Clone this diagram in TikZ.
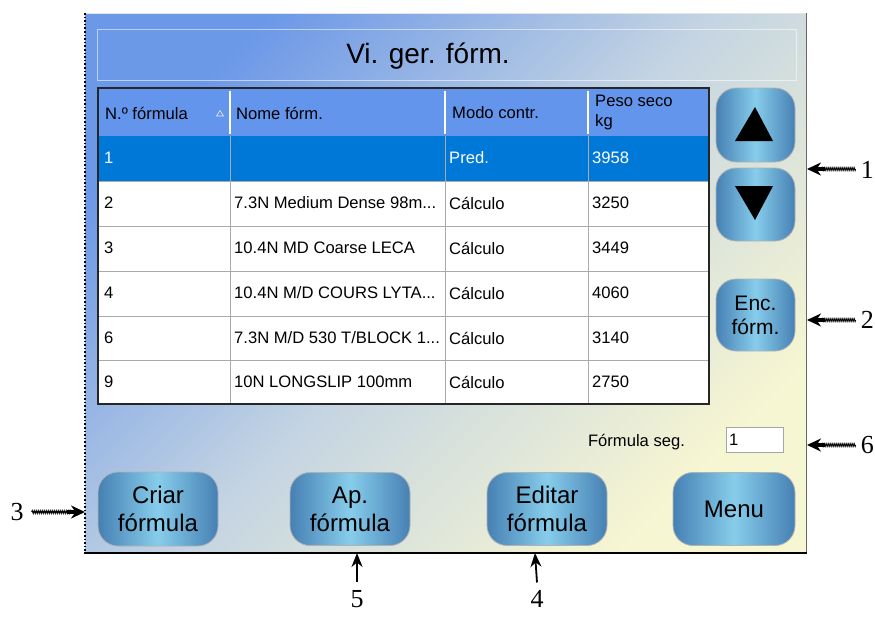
\documentclass[tikz,border=0pt]{standalone}
\usepackage{fontspec}
\setmainfont{Liberation Sans}
\newfontfamily\calloutfont{Liberation Serif}
\usetikzlibrary{arrows.meta,decorations.pathmorphing,calc}

\definecolor{panelTL}{RGB}{108,152,232}
\definecolor{panelMid}{RGB}{196,212,226}
\definecolor{panelBR}{RGB}{247,246,210}
\definecolor{btnEdge}{RGB}{70,128,180}
\definecolor{btnMid}{RGB}{135,205,235}
\definecolor{hdrBlue}{RGB}{100,149,237}
\definecolor{selBlue}{RGB}{0,120,215}
\definecolor{gridGray}{RGB}{170,170,170}

\begin{document}
\begin{tikzpicture}[x=1pt,y=-1pt,
  btn/.style={rounded corners=20pt, draw=gray!60, line width=0.8pt,
    left color=btnEdge, right color=btnEdge, middle color=btnMid,
    align=center, font=\fontsize{24}{28}\selectfont, inner sep=0pt},
  cell/.style={anchor=west, inner sep=0pt, font=\fontsize{16.6}{19}\selectfont},
  selcell/.style={cell, text=white},
  hdr/.style={cell, align=left, font=\fontsize{16.6}{20}\selectfont},
  callout/.style={font=\calloutfont\fontsize{26}{26}\selectfont, inner sep=0pt},
  wave/.style={decorate, decoration={zigzag, segment length=2pt, amplitude=1.4pt}, line width=1pt},
  tipline/.style={line width=3.4pt, -{Stealth[length=14pt,width=13pt]}},
  upline/.style={line width=1.8pt, -{Stealth[length=14pt,width=11pt]}}]
\useasboundingbox (0,0) rectangle (875,616);

% window background
\shade[top color=panelTL, bottom color=panelBR, middle color=panelMid, shading angle=45]
  (85,13) rectangle (806,553);
\draw[white!80!gray, line width=0.6pt] (85,13) -- (806,13);
\draw[gray!80!black, line width=1pt] (806,13) -- (806,553);
\draw[black, line width=2pt] (84,553) -- (807,553);
\draw[black, line width=1.6pt, dotted] (85,13) -- (85,553);

% title bar
\draw[white, opacity=0.55, line width=0.8pt] (97,29) rectangle (796,80);
\node[font=\fontsize{28}{32}\selectfont] (title) at (428,56) {Vi. ger. fórm.};

% table body
\fill[white] (98,88) rectangle (709,404);
\fill[hdrBlue] (98,88) rectangle (709,136);
\fill[selBlue] (98,136) rectangle (709,181);
\foreach \yy in {181,226,271,316,360}
  \draw[gridGray, line width=0.8pt] (98,\yy) -- (709,\yy);
\foreach \xx in {230,445,588} {
  \draw[white, line width=1.2pt] (\xx,91) -- (\xx,134);
  \draw[gridGray, line width=0.8pt] (\xx,136) -- (\xx,404);
}
\draw[black!85, line width=1.3pt] (98,88) rectangle (709,404);

% header
\node[hdr] (h1) at (105,113) {N.º fórmula};
\draw[white!85!gray, line width=0.6pt] (216.5,116) -- (223.5,116) -- (220,110.5) -- cycle;
\node[hdr] (h2) at (236,113) {Nome fórm.};
\node[hdr] (h3) at (452,113) {Modo contr.};
\node[hdr] (h4) at (595,113) {Peso seco\\kg};

% rows
\node[selcell] (r1a) at (104,158) {1};
\node[selcell] (r1c) at (449,158) {Pred.};
\node[selcell] (r1d) at (592,158) {3958};

\node[cell] (r2a) at (104,203) {2};
\node[cell] (r2b) at (234,203) {7.3N Medium Dense 98m...};
\node[cell] (r2c) at (449,203) {Cálculo};
\node[cell] (r2d) at (592,203) {3250};

\node[cell] (r3a) at (104,248) {3};
\node[cell] (r3b) at (234,248) {10.4N MD Coarse LECA};
\node[cell] (r3c) at (449,248) {Cálculo};
\node[cell] (r3d) at (592,248) {3449};

\node[cell] (r4a) at (104,293) {4};
\node[cell] (r4b) at (234,293) {10.4N M/D COURS LYTA...};
\node[cell] (r4c) at (449,293) {Cálculo};
\node[cell] (r4d) at (592,293) {4060};

\node[cell] (r5a) at (104,338) {6};
\node[cell] (r5b) at (234,338) {7.3N M/D 530 T/BLOCK 1...};
\node[cell] (r5c) at (449,338) {Cálculo};
\node[cell] (r5d) at (592,338) {3140};

\node[cell] (r6a) at (104,382) {9};
\node[cell] (r6b) at (234,382) {10N LONGSLIP 100mm};
\node[cell] (r6c) at (449,382) {Cálculo};
\node[cell] (r6d) at (592,382) {2750};

% side buttons
\node[btn, minimum width=79pt, minimum height=74pt] (up) at (755.5,125) {};
\fill[black] (735,141) -- (773,141) -- (755,107) -- cycle;
\node[btn, minimum width=79pt, minimum height=73pt] (down) at (755.5,204.5) {};
\fill[black] (735,186) -- (773,186) -- (755,220) -- cycle;
\node[btn, minimum width=79pt, minimum height=72pt, font=\fontsize{21}{24}\selectfont] (enc) at (755.5,315) {Enc.\\fórm.};

% next formula field
\node[font=\fontsize{16.6}{19}\selectfont] (seglbl) at (636.5,442) {Fórmula seg.};
\node[draw=gray!70, line width=0.8pt, fill=white, text width=51pt, inner sep=3pt,
  minimum height=25pt, align=left, font=\fontsize{16.6}{19}\selectfont] (seg) at (754.5,439.5) {1};

% bottom buttons
\node[btn, minimum width=120pt, minimum height=74pt] (criar) at (158,509) {Criar\\fórmula};
\node[btn, minimum width=120pt, minimum height=73pt] (ap) at (350,509) {Ap.\\fórmula};
\node[btn, minimum width=120pt, minimum height=73pt] (editar) at (547,509) {Editar\\fórmula};
\node[btn, minimum width=122pt, minimum height=73pt] (menu) at (734,509) {Menu};

% callouts
\coordinate (t1) at (807,169);
\coordinate (t2) at (807,320);
\coordinate (t6) at (807,445);
\coordinate (t3) at (85,512);
\coordinate (t5) at (357,553);
\coordinate (t4) at (535,553);

\node[callout, anchor=east] (n1) at (874,170) {1};
\node[callout, anchor=east] (n2) at (874,320) {2};
\node[callout, anchor=east] (n6) at (874,445) {6};
\node[callout] (n3) at (17,512) {3};
\node[callout, anchor=south] (n5) at (357,608) {5};
\node[callout, anchor=south] (n4) at (537,608) {4};

\foreach \k in {1,2,6} {
  \draw[wave] ([xshift=-5pt]n\k.west |- t\k) -- ($(t\k)+(14,0)$);
  \draw[tipline] ($(t\k)+(18,0)$) -- (t\k);
}
\draw[wave] ([xshift=8pt]n3.east |- t3) -- ($(t3)+(-14,0)$);
\draw[tipline] ($(t3)+(-18,0)$) -- (t3);
\draw[upline] ([yshift=8pt]n5.north) -- (t5);
\draw[upline] ([yshift=8pt]n4.north) -- (t4);
\end{tikzpicture}
\end{document}
